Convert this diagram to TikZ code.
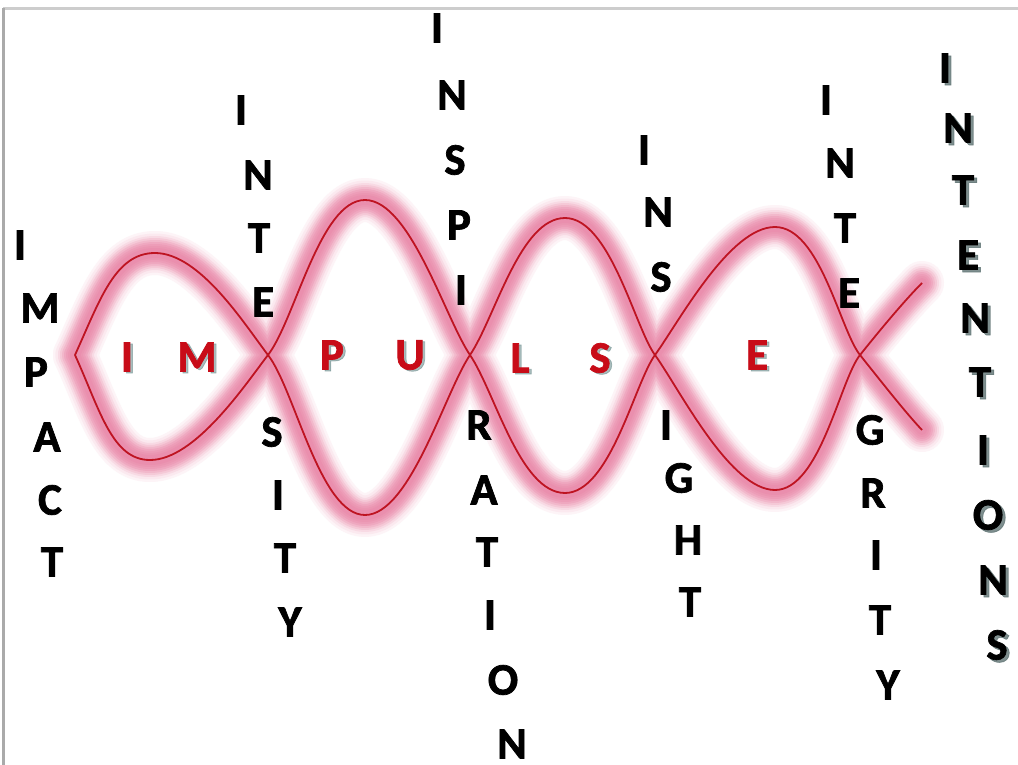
\documentclass[tikz,border=0pt]{standalone}
\usepackage{fontspec}
\setmainfont{Carlito}
\newfontfamily\lettf{Carlito}[BoldFeatures={FakeBold=1.6}]
\definecolor{glowc}{RGB}{226,100,142}
\definecolor{linec}{RGB}{190,20,34}
\definecolor{redt}{RGB}{200,12,24}
\definecolor{shadt}{RGB}{100,135,135}
\definecolor{shadk}{RGB}{95,115,115}
\definecolor{framec}{RGB}{170,170,170}
\definecolor{framet}{RGB}{205,205,205}
\def\strandA{(75,355) .. controls (100,300) and (115,253) .. (155,253)
  .. controls (200,253) and (245,325) .. (268,355)
  .. controls (295,390) and (320,515) .. (365,515)
  .. controls (410,515) and (445,392) .. (470,355)
  .. controls (495,318) and (520,218) .. (565,218)
  .. controls (610,218) and (635,328) .. (655,355)
  .. controls (680,390) and (730,490) .. (775,490)
  .. controls (820,490) and (840,380) .. (860,355)
  .. controls (880,330) and (905,300) .. (922,283)}
\def\strandB{(75,355) .. controls (100,410) and (112,460) .. (150,460)
  .. controls (195,460) and (245,385) .. (268,355)
  .. controls (295,320) and (320,200) .. (365,200)
  .. controls (410,200) and (445,318) .. (470,355)
  .. controls (495,392) and (520,493) .. (565,493)
  .. controls (610,493) and (635,382) .. (655,355)
  .. controls (680,320) and (730,227) .. (775,227)
  .. controls (820,227) and (840,330) .. (860,355)
  .. controls (880,380) and (905,412) .. (922,430)}
\tikzset{
  letter/.style={font=\lettf\fontsize{45}{45}\selectfont\bfseries, inner sep=0pt},
  blk/.style={letter, text=black},
  redl/.style={letter, text=redt},
  redsh/.style={letter, text=shadt, text opacity=0.55},
  ksh/.style={letter, text=shadk, text opacity=0.8},
  strand/.style={draw=linec, line width=1.8pt, line join=round}
}
\begin{document}
\begin{tikzpicture}[x=1pt,y=-1pt]
\useasboundingbox (0,0) rectangle (1018,765);
\fill[white] (0,0) rectangle (1018,765);
% frame
\draw[framet, line width=3pt] (3,8.5) -- (1018,8.5);
\draw[framec, line width=3pt] (3,8) -- (3,765);
% glow
\foreach \w/\c in {44/7,39/14,34/24,30/35,26/46,22/56,18/63,14/68,10/72}{
  \draw[line width=\w pt, draw=glowc!\c, line cap=round, line join=round] \strandA;
  \draw[line width=\w pt, draw=glowc!\c, line cap=round, line join=round] \strandB;
}
% lines
\draw[strand] \strandA;
\draw[strand] \strandB;
% IMPACT
\foreach \ch/\x/\y [count=\i] in {I/20/245, M/40/308, P/36/372, A/47/437, C/50/500, T/52/562}
  \node[blk] (impact-\i) at (\x,\y) {\ch};
% INTENSITY
\foreach \ch/\x/\y [count=\i] in {I/241/110, N/258/175, T/259/238, E/263/302, S/272/432, I/278/495, T/285/558, Y/290/622}
  \node[blk] (intensity-\i) at (\x,\y) {\ch};
% INSPIRATION
\foreach \ch/\x/\y [count=\i] in {I/437/28, N/452/95, S/455/160, P/459/225, I/461/290, R/479/425, A/484/490, T/487/552, I/490/615, O/503/680, N/512/744}
  \node[blk] (inspiration-\i) at (\x,\y) {\ch};
% INSIGHT
\foreach \ch/\x/\y [count=\i] in {I/644/150, N/658/212, S/661/277, I/666/425, G/679/478, H/688/540, T/690/602}
  \node[blk] (insight-\i) at (\x,\y) {\ch};
% INTEGRITY
\foreach \ch/\x/\y [count=\i] in {I/826/100, N/840/163, T/845/228, E/849/293, G/870/430, R/873/493, I/876/555, T/880/620, Y/888/685}
  \node[blk] (integrity-\i) at (\x,\y) {\ch};
% INTENTIONS with shadow
\foreach \ch/\x/\y [count=\i] in {I/945/68, N/958/128, T/963/190, E/968/255, N/975/318, T/980/382, I/983/450, O/988/515, N/993/580, S/997/645}{
  \node[ksh] (intentions-sh-\i) at (\x+3,\y+2.5) {\ch};
  \node[blk] (intentions-\i) at (\x,\y) {\ch};
}
% IMPULSE
\foreach \ch/\x/\y [count=\i] in {I/127/357, M/197/357, P/332/355, U/410/355, L/520/358, S/600/358, E/757/355}{
  \node[redsh] (impulse-sh-\i) at (\x+2.5,\y+1.5) {\ch};
  \node[redl] (impulse-\i) at (\x,\y) {\ch};
}
\end{tikzpicture}
\end{document}
